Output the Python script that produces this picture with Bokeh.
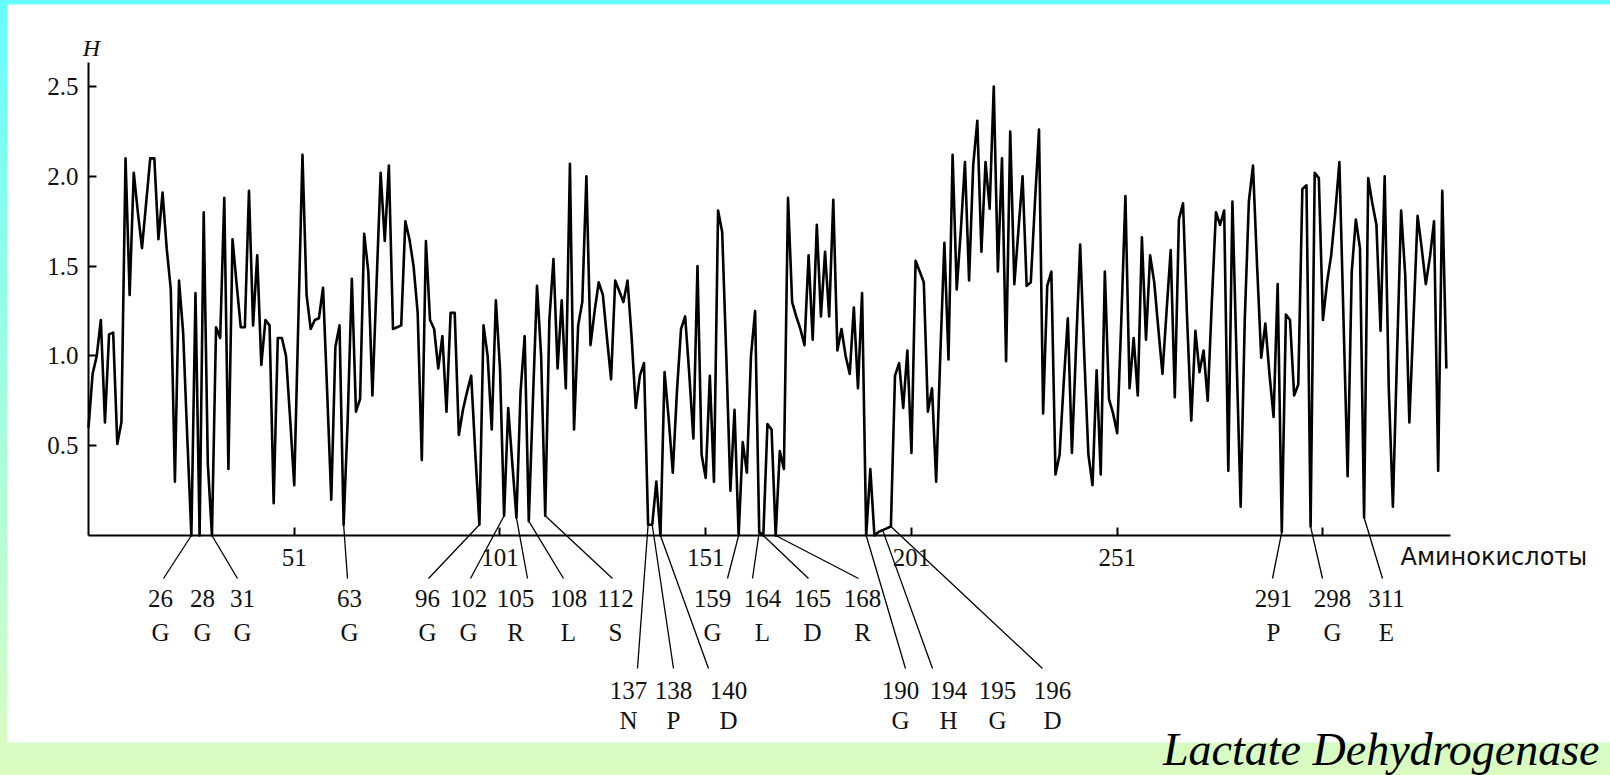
from bokeh.plotting import figure
from bokeh.models import (Range1d, FixedTicker, BoxAnnotation, Label, ColumnDataSource)
from bokeh.core.properties import value
from bokeh.embed import file_html
from bokeh.resources import INLINE

# ---------------- DATA ----------------
hydropathy = [
    0.60, 0.90, 1.00, 1.20, 0.63, 1.12, 1.13, 0.51, 0.63, 2.10,   # 1-10
    1.34, 2.02, 1.80, 1.60, 1.85, 2.10, 2.10, 1.65, 1.91, 1.60,   # 11-20
    1.37, 0.30, 1.42, 1.13, 0.55, 0.00, 1.35, 0.00, 1.80, 0.40,   # 21-30
    0.00, 1.16, 1.10, 1.88, 0.37, 1.65, 1.40, 1.16, 1.16, 1.92,   # 31-40
    1.17, 1.56, 0.95, 1.20, 1.17, 0.18, 1.10, 1.10, 1.00, 0.65,   # 41-50
    0.28, 1.20, 2.12, 1.34, 1.15, 1.20, 1.21, 1.38, 0.80, 0.20,   # 51-60
    1.05, 1.17, 0.06, 0.65, 1.43, 0.69, 0.76, 1.68, 1.47, 0.78,   # 61-70
    1.40, 2.02, 1.64, 2.06, 1.15, 1.16, 1.17, 1.75, 1.65, 1.50,   # 71-80
    1.24, 0.42, 1.64, 1.20, 1.15, 0.93, 1.11, 0.69, 1.24, 1.24,   # 81-90
    0.56, 0.70, 0.80, 0.89, 0.46, 0.06, 1.17, 1.00, 0.59, 1.31,   # 91-100
    0.93, 0.11, 0.71, 0.40, 0.10, 0.80, 1.11, 0.08, 0.75, 1.39,   # 101-110
    1.00, 0.11, 1.20, 1.54, 0.93, 1.31, 0.82, 2.07, 0.59, 1.17,   # 111-120
    1.30, 2.00, 1.06, 1.25, 1.41, 1.34, 1.10, 0.87, 1.42, 1.36,   # 121-130
    1.30, 1.42, 1.10, 0.71, 0.89, 0.96, 0.06, 0.06, 0.30, 0.00,   # 131-140
    0.91, 0.65, 0.35, 0.80, 1.15, 1.22, 0.90, 0.54, 1.50, 0.45,   # 141-150
    0.32, 0.89, 0.30, 1.81, 1.69, 1.00, 0.25, 0.70, 0.00, 0.52,   # 151-160
    0.35, 1.00, 1.25, 0.02, 0.00, 0.62, 0.59, 0.00, 0.47, 0.37,   # 161-170
    1.88, 1.30, 1.22, 1.15, 1.06, 1.56, 1.09, 1.73, 1.22, 1.58,   # 171-180
    1.22, 1.87, 1.03, 1.15, 1.00, 0.90, 1.27, 0.82, 1.35, 0.00,   # 181-190
    0.37, 0.00, 0.02, 0.03, 0.04, 0.05, 0.89, 0.96, 0.71, 1.03,   # 191-200
    0.46, 1.53, 1.47, 1.41, 0.69, 0.82, 0.30, 1.00, 1.63, 0.98,   # 201-210
    2.12, 1.37, 1.70, 2.08, 1.42, 2.06, 2.31, 1.58, 2.08, 1.82,   # 211-220
    2.50, 1.47, 2.10, 0.97, 2.25, 1.40, 1.70, 2.00, 1.39, 1.41,   # 221-230
    1.85, 2.26, 0.68, 1.39, 1.47, 0.34, 0.45, 0.85, 1.21, 0.46,   # 231-240
    1.05, 1.62, 1.00, 0.45, 0.28, 0.92, 0.34, 1.47, 0.76, 0.68,   # 241-250
    0.57, 1.20, 1.89, 0.82, 1.10, 0.78, 1.66, 1.09, 1.56, 1.41,   # 251-260
    1.15, 0.90, 1.25, 1.59, 0.77, 1.76, 1.85, 1.20, 0.64, 1.14,   # 261-270
    0.91, 1.03, 0.75, 1.30, 1.80, 1.73, 1.81, 0.36, 1.86, 1.00,   # 271-280
    0.16, 1.20, 1.86, 2.06, 1.50, 0.99, 1.18, 0.90, 0.66, 1.40,   # 281-290
    0.02, 1.23, 1.20, 0.78, 0.84, 1.93, 1.95, 0.05, 2.02, 1.99,   # 291-300
    1.20, 1.41, 1.56, 1.80, 2.08, 1.20, 0.33, 1.47, 1.76, 1.60,   # 301-310
    0.10, 1.99, 1.85, 1.73, 1.14, 2.00, 0.82, 0.16, 1.00, 1.81,   # 311-320
    1.45, 0.63, 1.20, 1.78, 1.60, 1.40, 1.55, 1.75, 0.36, 1.92,   # 321-330
    0.93,                                                         # 331
]
residues = list(range(1, len(hydropathy) + 1))

x_ticks = [51, 101, 151, 201, 251, 301]
y_ticks = [0.5, 1.0, 1.5, 2.0, 2.5]
y_tick_labels = ["0.5", "1.0", "1.5", "2.0", "2.5"]

site_numbers_row1 = [26, 28, 31, 63, 96, 102, 105, 108, 112, 159, 164, 165, 168, 291, 298, 311]
site_letters_row1 = ["G", "G", "G", "G", "G", "G", "R", "L", "S", "G", "L", "D", "R", "P", "G", "E"]
site_numbers_row2 = [137, 138, 140, 190, 194, 195, 196]
site_letters_row2 = ["N", "P", "D", "G", "H", "G", "D"]

x_axis_title = "Аминокислоты"
y_axis_title = "H"
caption = "Lactate Dehydrogenase"

# ---------------- LAYOUT (pixels) ----------------
W, H = 1610, 775
AX_L, AX_R, AX_T, AX_B = 88, 1450, 62, 535      # axes box in pixels
X_FIRST, X_LAST = 1.0, 332.0                    # residues at AX_L / AX_R
H_TOP = 2.634                                   # H at AX_T
KX = (AX_R - AX_L) / (X_LAST - X_FIRST)         # px per residue
KY = (AX_B - AX_T) / H_TOP                      # px per H unit

row1_label_px = [160, 202, 242, 349, 427, 468, 515, 568, 615, 712, 762, 812, 862, 1273, 1332, 1386]
row1_leader_px = [163, None, 237, 347, 428, 470, 527, 563, 612, 727, 752, 808, 858, 1272, 1322, 1382]
row2_label_px = [628, 673, 728, 900, 948, 997, 1052]
row2_leader_px = [637, 673, 708, 905, 932, None, 1042]
ROW1_NUM_Y, ROW1_LET_Y, ROW1_TOP = 598, 632, 578
ROW2_NUM_Y, ROW2_LET_Y, ROW2_TOP = 690, 720, 668


def px2x(px):
    return X_FIRST + (px - AX_L) / KX


def py2y(py):
    return (AX_B - py) / KY


SERIF = "Liberation Serif"

# the frame covers the whole canvas; the axes are pinned at x=1 and H=0
p = figure(width=W, height=H,
           x_range=Range1d(px2x(0), px2x(W)), y_range=Range1d(py2y(H), py2y(0)),
           output_backend="svg", toolbar_location=None,
           min_border_left=0, min_border_right=0, min_border_top=0, min_border_bottom=0)
p.border_fill_color = None
p.background_fill_color = None
p.outline_line_color = None
p.grid.visible = False
p.styles = {"background": "linear-gradient(180deg, #66ffff 0%, #dbfcc1 100%)"}

# white picture area
p.add_layout(BoxAnnotation(left=px2x(7), right=px2x(W + 10), top=py2y(4), bottom=py2y(742),
                           fill_color="white", fill_alpha=1.0, line_color=None,
                           level="underlay"))

# axes
xa, ya = p.xaxis[0], p.yaxis[0]
xa.fixed_location = 0.0
ya.fixed_location = X_FIRST
xa.bounds = (X_FIRST, X_LAST)
ya.bounds = (0.0, H_TOP)
for ax in (xa, ya):
    ax.axis_line_width = 2
    ax.axis_line_color = "black"
    ax.major_tick_line_width = 2
    ax.major_tick_line_color = "black"
    ax.major_tick_in = 8
    ax.major_tick_out = 0
    ax.minor_tick_line_color = None
    ax.major_label_text_font = SERIF
    ax.major_label_text_font_size = "25px"
    ax.major_label_text_color = "#111111"

xa.ticker = FixedTicker(ticks=x_ticks)
xa.major_label_overrides = {301: " "}
xa.major_label_standoff = 8
ya.ticker = FixedTicker(ticks=y_ticks)
ya.major_label_overrides = dict(zip(y_ticks, y_tick_labels))
ya.major_label_standoff = 10

# hydropathy profile
src = ColumnDataSource(dict(x=residues, y=hydropathy))
p.line("x", "y", source=src, line_width=2.6, line_color="black", line_join="round")

# leader lines from labels to the residues
xs, ys, xe, ye = [], [], [], []
for nums, lead_px, top in ((site_numbers_row1, row1_leader_px, ROW1_TOP),
                           (site_numbers_row2, row2_leader_px, ROW2_TOP)):
    for n, lp in zip(nums, lead_px):
        if lp is None:
            continue
        xs.append(px2x(lp))
        ys.append(py2y(top))
        xe.append(residues[n - 1])
        ye.append(hydropathy[n - 1])
p.segment(x0=xs, y0=ys, x1=xe, y1=ye, line_width=1.3, line_color="black")

# residue labels
lx, ly, lt = [], [], []
for nums, lets, pxs, ny, lyy in ((site_numbers_row1, site_letters_row1, row1_label_px, ROW1_NUM_Y, ROW1_LET_Y),
                                 (site_numbers_row2, site_letters_row2, row2_label_px, ROW2_NUM_Y, ROW2_LET_Y)):
    for n, l, px in zip(nums, lets, pxs):
        lx += [px2x(px), px2x(px)]
        ly += [py2y(ny), py2y(lyy)]
        lt += [str(n), l]
p.text(x=lx, y=ly, text=lt, text_font=value(SERIF), text_font_size=value("25px"),
       text_align="center", text_baseline="middle", text_color="#111111")

# axis titles and caption
p.add_layout(Label(x=px2x(91), y=py2y(47), text=y_axis_title, text_font=SERIF,
                   text_font_style="italic", text_font_size="24px",
                   text_align="center", text_baseline="middle", text_color="#111111"))
p.add_layout(Label(x=px2x(1400), y=py2y(556), text=x_axis_title, text_font="DejaVu Sans",
                   text_font_size="24px", text_align="left", text_baseline="middle",
                   text_color="#111111"))
p.add_layout(Label(x=px2x(1599), y=py2y(749), text=caption, text_font=SERIF,
                   text_font_style="italic", text_font_size="46px",
                   text_align="right", text_baseline="middle", text_color="black"))

open("out.html", "w").write(file_html(p, INLINE))
